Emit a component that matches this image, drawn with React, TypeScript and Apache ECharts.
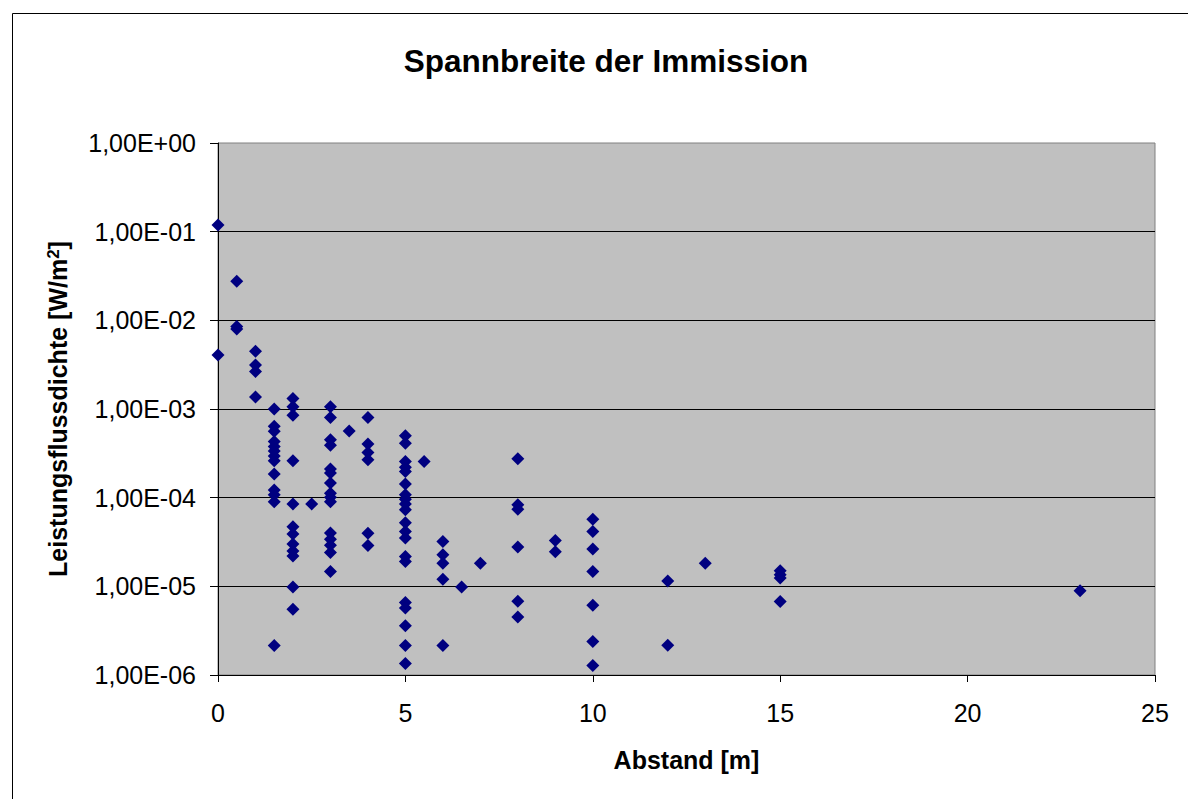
import { useEffect, useRef } from "react";
import * as echarts from "echarts";

const chartTitle = "Spannbreite der Immission";
const xAxisTitle = "Abstand [m]";
const yAxisTitleMain = "Leistungsflussdichte [W/m";
const yAxisTitleSup = "2";
const xTickValues = [0, 5, 10, 15, 20, 25];

// Abstand [m] at which measurements were taken
const distances = [0, 0.5, 1, 1.5, 2, 2.5, 3, 3.5, 4, 5, 5.5, 6, 6.5, 7, 8, 9, 10, 12, 13, 15, 23];

// Leistungsflussdichte [W/m²] per distance (same order as distances)
const at0 = [1.19e-1, 4.07e-3];
const at0_5 = [2.76e-2, 8.5e-3, 8.0e-3];
const at1 = [4.48e-3, 3.14e-3, 2.64e-3, 1.37e-3];
const at1_5 = [1.0e-3, 6.4e-4, 5.6e-4, 4.29e-4, 3.77e-4, 3.37e-4, 2.96e-4, 2.6e-4, 1.85e-4, 1.22e-4, 1.08e-4, 9.0e-5, 2.15e-6];
const at2 = [1.31e-3, 1.06e-3, 8.5e-4, 2.6e-4, 8.5e-5, 4.7e-5, 3.9e-5, 3.0e-5, 2.5e-5, 2.2e-5, 9.8e-6, 5.5e-6];
const at2_5 = [8.5e-5];
const at3 = [1.06e-3, 8.0e-4, 4.5e-4, 3.9e-4, 2.1e-4, 1.9e-4, 1.46e-4, 1.12e-4, 1.01e-4, 9.0e-5, 4.0e-5, 3.4e-5, 2.9e-5, 2.4e-5, 1.47e-5];
const at3_5 = [5.66e-4];
const at4 = [8.0e-4, 4.04e-4, 3.23e-4, 2.67e-4, 3.98e-5, 2.88e-5];
const at5 = [5.0e-4, 4.1e-4, 2.55e-4, 2.2e-4, 1.97e-4, 1.43e-4, 1.08e-4, 9.6e-5, 8.5e-5, 7.3e-5, 5.2e-5, 4.15e-5, 3.5e-5, 2.17e-5, 1.9e-5, 6.56e-6, 5.7e-6, 3.6e-6, 2.15e-6, 1.35e-6];
const at5_5 = [2.55e-4];
const at6 = [3.2e-5, 2.27e-5, 1.82e-5, 1.2e-5, 2.15e-6];
const at6_5 = [9.8e-6];
const at7 = [1.82e-5];
const at8 = [2.74e-4, 8.3e-5, 7.4e-5, 2.77e-5, 6.8e-6, 4.5e-6];
const at9 = [3.28e-5, 2.45e-5];
const at10 = [5.7e-5, 4.15e-5, 2.63e-5, 1.47e-5, 6.1e-6, 2.39e-6, 1.28e-6];
const at12 = [1.15e-5, 2.17e-6];
const at13 = [1.82e-5];
const at15 = [1.5e-5, 1.35e-5, 1.24e-5, 6.75e-6];
const at23 = [8.9e-6];

const valuesByDistance = [at0, at0_5, at1, at1_5, at2, at2_5, at3, at3_5, at4, at5, at5_5, at6, at6_5, at7, at8, at9, at10, at12, at13, at15, at23];

const FONT = "'Liberation Sans', Arial, sans-serif";

function formatExp(v: number): string {
  const e = Math.round(Math.log10(v));
  const sign = e >= 0 ? "+" : "-";
  const a = Math.abs(e);
  return "1,00E" + sign + (a < 10 ? "0" + a : String(a));
}

export default function App() {
  const ref = useRef<HTMLDivElement>(null);

  useEffect(() => {
    if (!ref.current) return;
    const chart = echarts.init(ref.current, null, { renderer: "svg" });
    const points: number[][] = [];
    distances.forEach((d, i) => {
      valuesByDistance[i].forEach((v) => points.push([d, v]));
    });

    chart.setOption({
      animation: false,
      backgroundColor: "#ffffff",
      textStyle: { fontFamily: FONT },
      title: {
        text: chartTitle,
        left: 601,
        top: 40,
        textAlign: "center",
        textStyle: { fontFamily: FONT, fontSize: 31.5, fontWeight: "bold", color: "#000" },
      },
      graphic: [
        {
          type: "rect",
          left: 10,
          top: 11,
          silent: true,
          z: -10,
          shape: { x: 0.5, y: 0.5, width: 1300, height: 1000 },
          style: { fill: "none", stroke: "#000", lineWidth: 1 },
        },
      ],
      grid: {
        left: 218,
        top: 143,
        right: 33,
        bottom: 124,
        show: true,
        backgroundColor: "#c0c0c0",
        borderColor: "#808080",
        borderWidth: 1,
        outerBoundsMode: "none",
        containLabel: false,
      },
      xAxis: {
        type: "value",
        min: 0,
        max: 25,
        interval: 5,
        name: xAxisTitle,
        nameLocation: "middle",
        nameGap: 72,
        nameTextStyle: { fontFamily: FONT, fontSize: 25, fontWeight: "bold", color: "#000" },
        axisLine: { show: true, onZero: false, lineStyle: { color: "#000", width: 1 } },
        axisTick: { show: true, inside: false, length: 7, lineStyle: { color: "#000" } },
        axisLabel: {
          margin: 25,
          fontFamily: FONT,
          fontSize: 25,
          color: "#000",
          customValues: xTickValues,
        },
        splitLine: { show: false },
      },
      yAxis: {
        type: "log",
        logBase: 10,
        min: 1e-6,
        max: 1,
        splitNumber: 6,
        name: "{m|" + yAxisTitleMain + "}{s|" + yAxisTitleSup + "}{m|]}",
        nameLocation: "middle",
        nameGap: 148,
        nameTextStyle: {
          fontFamily: FONT,
          fontSize: 25,
          fontWeight: "bold",
          color: "#000",
          rich: {
            m: { fontFamily: FONT, fontSize: 25, fontWeight: "bold", color: "#000", lineHeight: 25 },
            s: { fontFamily: FONT, fontSize: 17, fontWeight: "bold", color: "#000", verticalAlign: "top", lineHeight: 17 },
          },
        },
        axisLine: { show: true, lineStyle: { color: "#000", width: 1 } },
        axisTick: { show: true, inside: false, length: 8, lineStyle: { color: "#000" } },
        axisLabel: {
          margin: 22,
          fontFamily: FONT,
          fontSize: 25,
          color: "#000",
          formatter: (v: number) => formatExp(v),
        },
        splitLine: { show: true, showMaxLine: false, showMinLine: false, lineStyle: { color: "#000", width: 1 } },
      },
      series: [
        {
          type: "scatter",
          data: points,
          symbol: "diamond",
          symbolSize: 13,
          itemStyle: { color: "#000080", opacity: 1 },
        },
      ],
    });

    return () => {
      chart.dispose();
    };
  }, []);

  return (
    <div
      ref={ref}
      style={{ position: "fixed", left: 0, top: 0, width: 1188, height: 799 }}
    />
  );
}
